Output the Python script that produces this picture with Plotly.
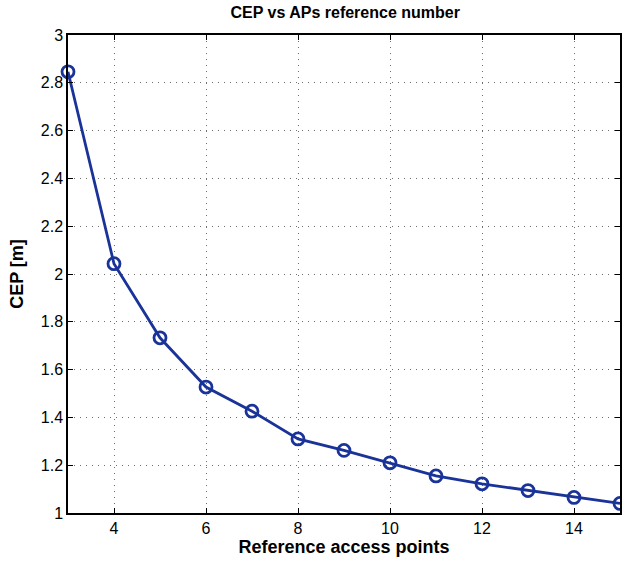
import plotly.graph_objects as go

# Number of reference access points used for positioning
ref_aps = [3, 4, 5, 6, 7, 8, 9, 10, 11, 12, 13, 14, 15]
# Circular error probable for each configuration, in metres
cep_m = [2.846, 2.043, 1.733, 1.527, 1.426, 1.31, 1.262, 1.21, 1.155, 1.122, 1.094, 1.065, 1.04]

x_ticks = [4, 6, 8, 10, 12, 14]
y_ticks = [1, 1.2, 1.4, 1.6, 1.8, 2, 2.2, 2.4, 2.6, 2.8, 3]

line_color = "#1a3399"
font_family = "Liberation Sans, Arial, Helvetica, sans-serif"

fig = go.Figure(
    go.Scatter(
        x=ref_aps,
        y=cep_m,
        mode="lines+markers",
        line=dict(color=line_color, width=2.8),
        marker=dict(symbol="circle-open", size=12, color=line_color,
                    line=dict(color=line_color, width=2.8)),
        cliponaxis=False,
        showlegend=False,
    )
)

axis_common = dict(
    showline=True, linecolor="black", linewidth=1.5, mirror="ticks",
    ticks="inside", ticklen=5, tickwidth=1, tickcolor="black",
    showgrid=True, gridcolor="#6f6f6f", gridwidth=1, griddash="1px,5px",
    zeroline=False,
    tickfont=dict(family=font_family, size=16, color="black"),
)

fig.update_layout(
    width=622, height=561,
    margin=dict(l=68, r=0, t=35, b=48),
    paper_bgcolor="white", plot_bgcolor="white",
    title=dict(text="<b>CEP vs APs reference number</b>", x=0.555, xanchor="center",
               y=0.987, yanchor="top",
               font=dict(family=font_family, size=16, color="black")),
    xaxis=dict(range=[3, 15], tickvals=x_ticks, ticktext=[str(v) for v in x_ticks],
               title=dict(text="<b>Reference access points</b>", standoff=2,
                          font=dict(family=font_family, size=18, color="black")),
               **axis_common),
    yaxis=dict(range=[1, 3], tickvals=y_ticks, ticktext=[f"{v:g}" for v in y_ticks],
               title=dict(text="<b>CEP [m]</b>", standoff=12,
                          font=dict(family=font_family, size=18, color="black")),
               **axis_common),
)

fig.write_html("out.html")
